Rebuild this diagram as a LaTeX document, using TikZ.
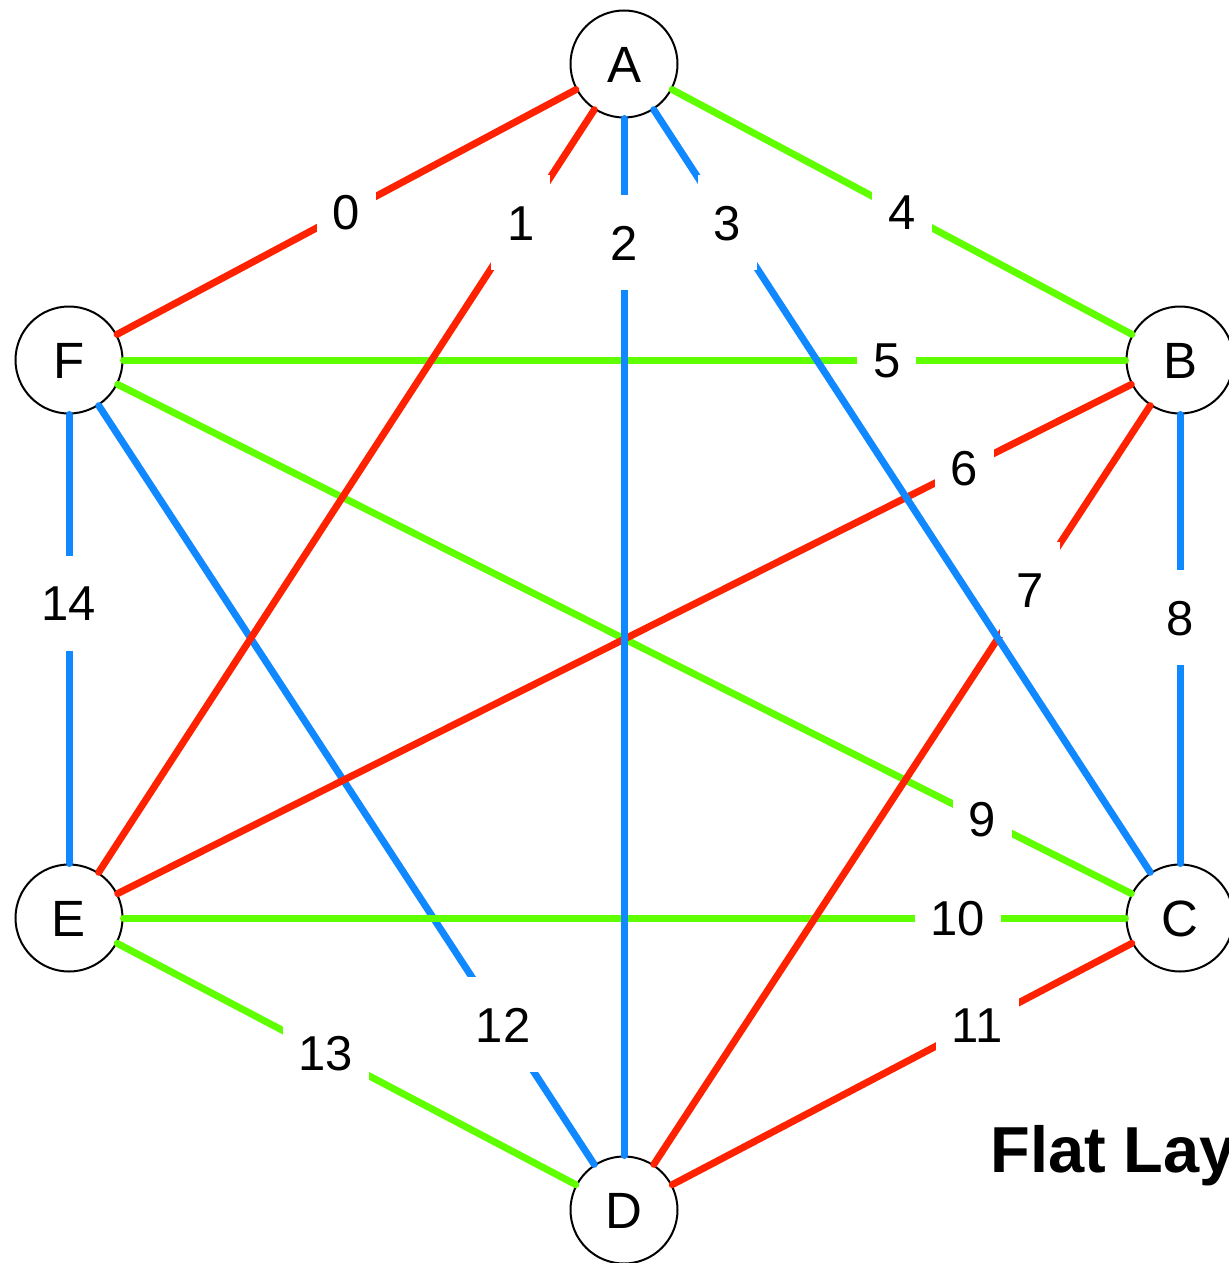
\documentclass[tikz,border=0pt]{standalone}
\usepackage{fontspec}
\setmainfont{Liberation Sans}
\usetikzlibrary{calc}
\definecolor{er}{RGB}{255,34,0}
\definecolor{eg}{RGB}{96,255,0}
\definecolor{eb}{RGB}{16,136,255}
\begin{document}
\begin{tikzpicture}[x=0.5pt,y=-0.5pt,
  vtx/.style={circle,draw=black,line width=1pt,fill=white,minimum size=53.5pt,inner sep=0pt,
    font=\fontsize{25.5}{30}\selectfont,text height=18.2pt,text depth=0pt},
  lbl/.style={fill=white,inner xsep=8pt,inner ysep=0pt,minimum height=47.5pt,
    font=\fontsize{24.5}{29}\selectfont,text height=17.5pt,text depth=0pt},
  edgeline/.style={line width=3.5pt,line cap=round}]
\useasboundingbox (0,0) rectangle (1228,1263);
\node[vtx] (A) at (624,64) {A};
\node[vtx] (B) at (1180,360) {B};
\node[vtx] (C) at (1180,918) {C};
\node[vtx] (D) at (624,1210) {D};
\node[vtx] (E) at (69,918) {E};
\node[vtx] (F) at (69,360) {F};
\foreach \k/\a/\b/\c/\t in {
  14/F/E/eb/0.436,
  13/E/D/eg/0.463,
  12/F/D/eb/0.782,
  11/C/D/er/0.365,
  10/E/C/eg/0.8,
  9/F/C/eg/0.822,
  8/B/C/eb/0.4615,
  7/B/D/er/0.27,
  6/B/E/er/0.194,
  5/F/B/eg/0.736,
  4/A/B/eg/0.5,
  3/A/C/eb/0.186,
  2/A/D/eb/0.156,
  1/A/E/er/0.186,
  0/A/F/er/0.5}{
  \draw[edgeline,draw=\c] (\a) -- (\b);
  \node[lbl] (l\k) at ($(\a)!\t!(\b)$) {\k};
}
\node[anchor=base west,inner sep=0pt,font=\bfseries\fontsize{32.5}{38}\selectfont] (title) at (990,1172) {Flat Lay};
\end{tikzpicture}
\end{document}
